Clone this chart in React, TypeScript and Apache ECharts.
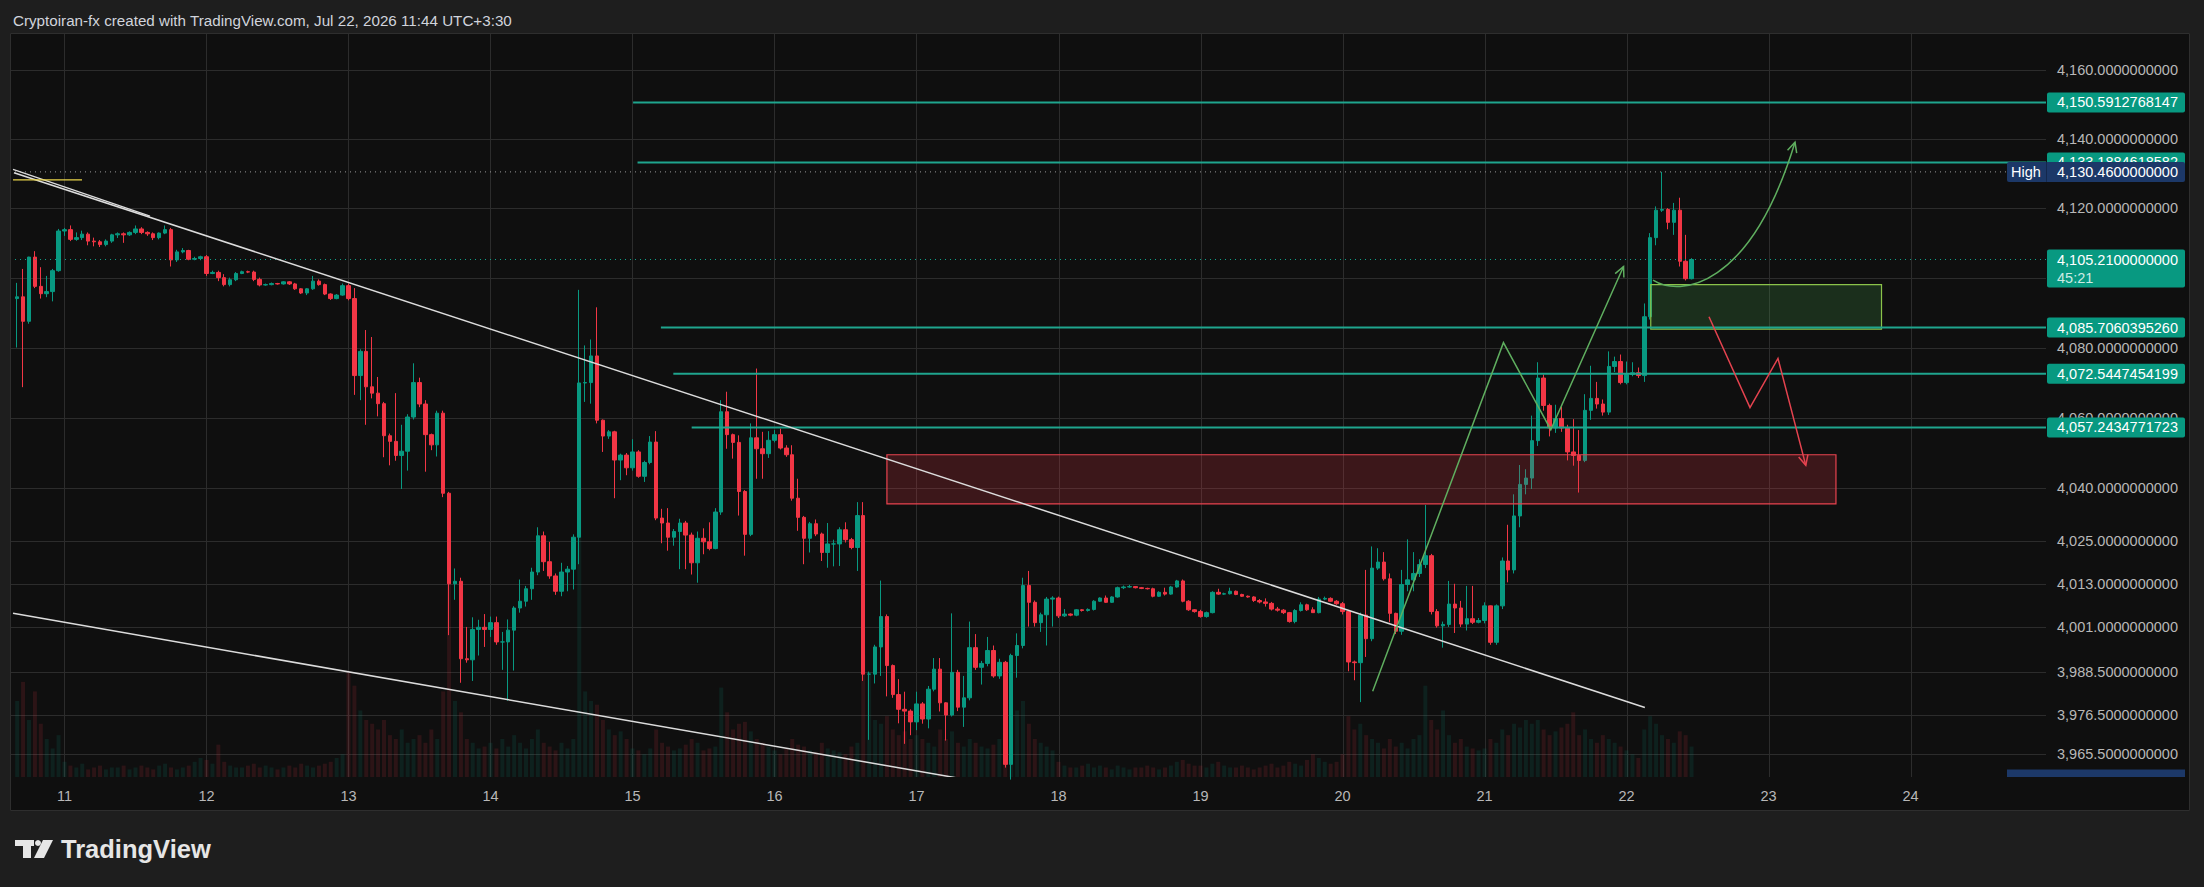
import React, { useEffect, useRef } from "react";
import * as echarts from "echarts";

// ---------- data ----------
// hourly candles, first candle opens Jul 10 16:00 (hours counted from Jul 10 00:00)
const FIRST_HOUR = 16;
const FIRST_OPEN = 4094;

const closes = [
  4094.5, 4087.5, 4105.9, 4097.5, 4095.4, 4096, 4102, 4113.4,
  4113.8, 4111, 4111.5, 4112.5, 4110.5, 4110.3, 4109.5, 4110.5, 4112.3, 4112.6, 4112.3, 4113, 4114, 4113, 4112.6, 4111.5, 4112.8, 4113.8, 4105.1, 4107.4, 4107.8, 4105.3, 4105.5, 4106,
  4101.2, 4101.5, 4100, 4098, 4099.4, 4101.2, 4101.7, 4101.6, 4099.5, 4097.9, 4098, 4098.3, 4098.2, 4098.8, 4098.2, 4096.8, 4095.6, 4096.8, 4099, 4098, 4095.3, 4094, 4095, 4097.7,
  4094, 4072, 4078.9, 4068.8, 4067, 4064, 4054.9, 4053.3, 4049.3, 4050.5, 4060.2, 4070, 4063.9, 4055.2, 4052.3, 4061.3, 4038.6, 4013.1, 4013.8, 3992.1, 3991.8, 4000.3, 4000.9, 4000.3,
  4002.2, 3996.8, 3996.8, 4000.1, 4006.3, 4008.2, 4011.7, 4016.4, 4026.6, 4019.3, 4015.3, 4011, 4016.4, 4017.2, 4026.2, 4069.9, 4070, 4077.6, 4059.3, 4054.8, 4056, 4048, 4049.4, 4045.8,
  4050.3, 4043.4, 4047.3, 4053.1, 4031.6, 4030.2, 4026.2, 4027.8, 4030.2, 4026.8, 4019, 4025.9, 4024.9, 4023, 4033.3, 4061.7, 4055.2, 4053, 4039.1, 4027, 4054.3, 4051.2, 4049.8, 4053.6,
  4055.2, 4051.4, 4049.5, 4037.2, 4031.8, 4025.9, 4030, 4027.1, 4021.9, 4024.3, 4024.3, 4028.3, 4025.5, 4023.3, 4032.3, 3987.8, 3987.8, 3995.4, 4003.9, 3990.2, 3982.1, 3978, 3977.5, 3974.5,
  3979.5, 3975.3, 3983.6, 3989.2, 3979.8, 3976.4, 3988.3, 3978.6, 3981.2, 3995.2, 3989.7, 3990.8, 3994.4, 3987.3, 3991.1, 3962.7, 3993, 3995.8, 4012.6, 4007.9, 4002.2, 4004.4, 4008.8, 4009.1,
  4004.1, 4004.6, 4004.3, 4005.8, 4005.6, 4005.9, 4008.2, 4009.1, 4007.9, 4009.4, 4012, 4012.2, 4012.3, 4012, 4011.8, 4011.7, 4009.6, 4010.7, 4010.2, 4012.2, 4013.9, 4008.2, 4005.8, 4005.3,
  4003.9, 4005, 4010.7, 4010.2, 4010.3, 4011, 4010.1, 4009.6, 4009.4, 4008.4, 4008, 4007.6, 4006, 4005.7, 4005, 4002.5, 4005.6, 4007.2, 4005.8, 4005, 4008.8, 4009, 4008.2, 4007.5,
  4005.3, 3991.2, 3991, 4004.3, 3997.7, 4017.5, 4019.2, 4014.5, 4004.8, 3999.8, 4012.9, 4014.2, 4016, 4018.5, 4021, 4005.3, 4001.3, 4001.7, 4007.4, 4006.3, 4001.8, 4003.3, 4002.3, 4002.8,
  4006.9, 3996.7, 4006.9, 4019.5, 4017, 4032.2, 4041.1, 4042.9, 4053.5, 4071.3, 4063.5, 4057.1, 4059.8, 4057.1, 4050.3, 4049.3, 4047.9, 4062.1, 4065.5, 4063.9, 4061.6, 4074.6, 4076, 4070,
  4072.3, 4072.8, 4072, 4088.8, 4111.5, 4119.4, 4119.6, 4115.9, 4119.4, 4104.7, 4099.7, 4105.21,
];

const highs = [
  4098.5, 4102.5, 4106, 4107.6, 4103, 4100.5, 4102.5, 4114,
  4114.3, 4115, 4113, 4113.5, 4113, 4111.5, 4110.8, 4111, 4112.6, 4113, 4113, 4113.3, 4115, 4114.5, 4113.3, 4113, 4113, 4115, 4114.3, 4108, 4108.5, 4108, 4106, 4106.3,
  4106.5, 4102, 4102, 4101, 4100, 4101.6, 4102, 4102, 4102, 4100, 4098.3, 4098.6, 4098.5, 4099, 4099, 4098.5, 4097, 4097, 4100.5, 4099.5, 4098.3, 4095.5, 4095.3, 4098.3,
  4098.3, 4097, 4079.5, 4085, 4083, 4071.6, 4064.5, 4055.5, 4067, 4058, 4061, 4075.5, 4071.4, 4065, 4055.5, 4062, 4062, 4039, 4017.4, 4014.8, 4001, 4003.7, 4003, 4004.6,
  4003.9, 4003.9, 3999.6, 4003.1, 4006.8, 4014.3, 4012.5, 4017.6, 4029, 4027.8, 4024.9, 4016, 4019, 4018.1, 4027, 4096.5, 4080.6, 4082.3, 4091.5, 4059.5, 4056.5, 4056.3, 4049.8, 4050,
  4053.9, 4050.8, 4047.8, 4054.8, 4056.2, 4034.2, 4034.4, 4028.5, 4031.4, 4030.8, 4027.5, 4027.8, 4028.7, 4030.4, 4034.4, 4065, 4067.4, 4055.5, 4055, 4039.5, 4058.4, 4074, 4056, 4056.2,
  4056.5, 4056.9, 4052.2, 4052.2, 4042.7, 4032.2, 4030.5, 4031.2, 4027.5, 4030.2, 4025.5, 4029, 4030.4, 4026, 4036.1, 4036.1, 3988.5, 3996, 4014, 4004.5, 3990.5, 3986.4, 3982.9, 3978,
  3982.9, 3980, 3984.5, 3992.3, 3992.3, 3980, 4004.8, 3989, 3987.3, 4002.5, 3999, 3991.5, 3998.2, 3995.8, 3992.1, 3991.5, 3993.5, 3999.2, 4014.8, 4016.7, 4008.4, 4005, 4009.4, 4009.6,
  4009.5, 4006, 4004.8, 4006, 4006, 4006.2, 4008.5, 4009.3, 4009.8, 4009.6, 4012.3, 4012.6, 4012.8, 4012.4, 4012.2, 4012, 4012, 4011, 4012, 4012.5, 4014.2, 4014.3, 4008.5, 4006,
  4005.8, 4005.3, 4011, 4011.7, 4010.6, 4012, 4011.2, 4010.3, 4009.8, 4009.6, 4008.8, 4009, 4008, 4006.6, 4006, 4005.2, 4006, 4007.9, 4007.5, 4006.5, 4009.4, 4009.5, 4009.3, 4008.5,
  4008, 4005.6, 3991.6, 4005, 4017, 4023.6, 4023.1, 4022, 4016, 4005, 4017, 4025.6, 4022, 4020, 4035.3, 4021.5, 4006, 4002.5, 4013.9, 4013.1, 4008.3, 4012.5, 4012.5, 4003.5,
  4007.9, 4007, 4007.3, 4020.5, 4029.7, 4038.3, 4046.6, 4045.4, 4060.6, 4075.8, 4072.3, 4064, 4063.7, 4063.2, 4058, 4059.6, 4056.5, 4066.7, 4074.8, 4070.2, 4065.2, 4078.9, 4077.4, 4078,
  4076, 4075.8, 4074.3, 4092.6, 4112.8, 4120.5, 4130.46, 4120, 4121.5, 4123, 4112.3, 4105.6,
];

const lows = [
  4080, 4068.7, 4086.8, 4097, 4094, 4094.4, 4093.2, 4101.7,
  4112, 4110.5, 4110.6, 4110.8, 4109.3, 4109, 4108.8, 4109, 4110, 4111.4, 4110, 4112, 4112.5, 4112.5, 4112, 4110.8, 4111, 4112.5, 4103.2, 4104.5, 4107, 4105, 4105, 4105,
  4100.5, 4101, 4099, 4097.5, 4097.5, 4099, 4101, 4101.3, 4099, 4097.5, 4097.7, 4097.8, 4098, 4098, 4097.9, 4096.5, 4095.3, 4095, 4096.5, 4097.7, 4095, 4093.6, 4093.8, 4094.8,
  4093.5, 4066.5, 4065, 4058, 4065.5, 4060.4, 4048.8, 4046.5, 4047.8, 4039.8, 4045, 4059.5, 4063, 4044.7, 4050.8, 4049, 4037.5, 3998.7, 4008.6, 3985.4, 3991, 3985.9, 3993, 3995.4,
  3998.2, 3996, 3989, 3980.4, 3988.8, 4005, 4006.7, 4008.6, 4015.5, 4016.7, 4014.5, 4010, 4009.6, 4011, 4011.5, 4018.6, 4064.5, 4064, 4058.4, 4050.3, 4054, 4037.2, 4042.3, 4043.7,
  4045, 4043, 4041.8, 4046.8, 4031, 4024.5, 4022.4, 4023.8, 4017.2, 4017.2, 4015.7, 4013.4, 4021.4, 4022.5, 4022.8, 4032.5, 4051.2, 4048.4, 4032.3, 4021, 4026.5, 4042.7, 4042.7, 4048.6,
  4053, 4051, 4048.9, 4036.5, 4028, 4018.6, 4021.9, 4026.5, 4019.5, 4017.6, 4018, 4018.1, 4024.7, 4022.8, 4016.7, 3985.9, 3969.5, 3985.2, 3987.3, 3981.6, 3981.2, 3974.1, 3968.4, 3970.8,
  3972.2, 3974, 3972.7, 3983, 3977.4, 3969.3, 3976, 3977.5, 3973.1, 3980.5, 3989, 3984.9, 3990, 3986.8, 3986.5, 3961.8, 3958.48, 3986.8, 3995, 4001.1, 4001.1, 3999.6, 3995.8, 4001.1,
  4003.5, 4003.8, 4004, 4004, 4005.3, 4005.3, 4005.6, 4008, 4007.7, 4007.7, 4009.2, 4011.6, 4012, 4011.8, 4011.6, 4011.5, 4009.3, 4009.4, 4009.8, 4010, 4012, 4007.9, 4005.5, 4005,
  4003.6, 4003.6, 4004.8, 4010, 4010, 4010.1, 4009.9, 4009.4, 4009.2, 4008, 4007.6, 4006.7, 4005.6, 4005.3, 4004.6, 4002.2, 4002, 4005.3, 4005.5, 4005, 4004.8, 4008.5, 4008, 4007.2,
  4004.5, 3988.6, 3986.1, 3980, 3992.6, 3997, 4017, 4014, 4002.3, 3999, 3998.8, 4011, 4011, 4015, 4017.5, 4004.5, 4000.8, 3995.2, 4001, 3999.3, 4001, 4000, 4001.8, 4002,
  4002, 3996, 3996, 4006, 4013.5, 4016, 4029, 4038.3, 4039.8, 4052, 4062, 4054.7, 4055.7, 4056, 4047.9, 4046.4, 4038.8, 4047.4, 4059.4, 4062.6, 4060.6, 4060.8, 4073, 4069.5,
  4069.5, 4071.8, 4071.3, 4070.2, 4088, 4109.3, 4118.9, 4113.9, 4112.3, 4103.2, 4099.2, 4099.5,
];

const volumes = [
  40, 50, 30, 45, 28, 20, 15, 22,
  8, 6, 5, 7, 4, 5, 6, 4, 5, 5, 6, 4, 5, 6, 5, 4, 6, 7, 5, 4, 5, 6, 8, 10,
  9, 7, 17, 8, 6, 5, 5, 6, 7, 5, 6, 5, 4, 5, 6, 5, 7, 6, 5, 6, 7, 8, 10, 12,
  55, 48, 35, 30, 28, 25, 30, 22, 20, 25, 18, 20, 22, 18, 25, 20, 45, 104, 40, 34, 20, 18, 15, 16,
  18, 15, 20, 16, 22, 18, 15, 20, 25, 18, 16, 14, 18, 15, 20, 187, 45, 40, 38, 30, 25, 22, 24, 20,
  15, 14, 12, 15, 25, 18, 16, 14, 15, 17, 20, 18, 14, 15, 16, 47, 34, 25, 28, 29, 24, 20, 18, 16,
  14, 12, 15, 20, 17, 16, 14, 13, 18, 15, 14, 13, 12, 16, 18, 64, 55, 30, 28, 32, 25, 22, 24, 20,
  22, 20, 18, 16, 25, 20, 24, 18, 16, 20, 18, 16, 15, 17, 20, 30, 42, 35, 40, 28, 20, 18, 16, 14,
  8, 6, 5, 5, 6, 7, 5, 6, 5, 4, 6, 5, 4, 5, 5, 6, 5, 4, 5, 6, 8, 9, 7, 6,
  6, 5, 7, 8, 6, 5, 5, 6, 5, 4, 5, 6, 7, 5, 6, 8, 7, 6, 9, 12, 10, 8, 7, 8,
  12, 32, 25, 28, 22, 20, 18, 15, 20, 16, 18, 15, 20, 22, 48, 30, 25, 35, 22, 18, 20, 16, 15, 14,
  15, 20, 18, 25, 22, 28, 26, 30, 28, 30, 25, 22, 24, 26, 28, 34, 22, 25, 20, 18, 22, 20, 18, 16,
  14, 12, 10, 25, 32, 28, 22, 20, 18, 24, 22, 16,
];

// axis ticks
const dayTicks = [11, 12, 13, 14, 15, 16, 17, 18, 19, 20, 21, 22, 23, 24];
const priceTicks = [4160, 4140, 4120, 4100, 4080, 4060, 4040, 4025, 4013, 4001, 3988.5, 3976.5, 3965.5];

// horizontal levels (price, start hour)
const levelPrices = [4150.5912768147, 4133.1884618582, 4085.706039526, 4072.5447454199, 4057.2434771723];
const levelStarts = [120.1, 120.85, 124.8, 126.9, 130.0];
const highPrice = 4130.46;
const lowPrice = 3958.48;
const lastPrice = 4105.21;
const countdown = "45:21";

// drawings in (hour, price)
const upperTrend = [[15.46, 4130.2], [291.1, 3978.5]];
const upperTrend2 = [[15.3, 4131.2], [38.45, 4117.7]];
const lowerTrend = [[15.3, 4004.8], [176.4, 3958.5]];
const yellowLine = [[15.3, 4128.15], [26.96, 4128.15]];
const supplyZone = [[163.0, 4049.5], [323.4, 4035.6]];
const demandZone = [[292.1, 4098.0], [331.1, 4085.25]];
const greenZigzag = [[245.1, 3983.0], [267.2, 4081.4], [275.2, 4056.6], [287.5, 4103.2]];
const greenCurve = [[292.48, 4099.26], [297.04, 4094.43], [308.87, 4096.7], [316.48, 4139.03]];
const redPath = [[301.94, 4088.8], [308.87, 4062.9], [313.6, 4076.9], [318.3, 4046.5]];

// ---------- layout / style ----------
const W = 2204;
const H = 887;
const X_MIN = 14.79;
const X_MAX = 358.9;
const Y_MIN = 3959.2;
const Y_MAX = 4170.8;
const FONT = '"Liberation Sans", Arial, sans-serif';
const UP = "#089981";
const DOWN = "#f23645";
const GRID_COLOR = "#2c2c2c";
const LEVEL_COLOR = "#1fa58e";
const GREEN_DRAW = "#5fae5f";
const RED_DRAW = "#e5434f";
const TEXT_COLOR = "#b8b8b8";

function fmtPrice(v: number): string {
  const s = Number(v).toFixed(10);
  const [i, d] = s.split(".");
  return i.replace(/\B(?=(\d{3})+(?!\d))/g, ",") + "." + d;
}

function arrowHead(tip: number[], from: number[], len = 11, ang = 0.45): number[][] {
  const a = Math.atan2(tip[1] - from[1], tip[0] - from[0]);
  return [
    [tip[0] - len * Math.cos(a - ang), tip[1] - len * Math.sin(a - ang)],
    [tip[0], tip[1]],
    [tip[0] - len * Math.cos(a + ang), tip[1] - len * Math.sin(a + ang)],
  ];
}

export default function App() {
  const ref = useRef<HTMLDivElement>(null);

  useEffect(() => {
    if (!ref.current) return;
    const chart = echarts.init(ref.current, undefined, { renderer: "svg", width: W, height: H });

    const n = Math.min(closes.length, highs.length, lows.length);
    const candles: number[][] = [];
    const vols: any[] = [];
    for (let i = 0; i < n; i++) {
      const o = i === 0 ? FIRST_OPEN : closes[i - 1];
      const x = FIRST_HOUR + i;
      candles.push([x, o, closes[i], lows[i], highs[i]]);
      vols.push({
        value: [x, volumes[i] ?? 0],
        itemStyle: { color: closes[i] >= o ? "rgba(8,153,129,0.13)" : "rgba(242,54,69,0.13)" },
      });
    }

    const gridSeries = {
      type: "custom",
      coordinateSystem: "cartesian2d",
      silent: true,
      clip: true,
      z: 1,
      data: [[X_MIN, 4000]],
      encode: { x: 0, y: 1 },
      renderItem: (params: any, api: any) => {
        const cs = params.coordSys;
        const ch: any[] = [];
        for (const p of priceTicks) {
          const y = Math.round(api.coord([X_MIN, p])[1]) + 0.5;
          ch.push({ type: "line", shape: { x1: cs.x, y1: y, x2: cs.x + cs.width, y2: y }, style: { stroke: GRID_COLOR, lineWidth: 1 } });
        }
        for (const d of dayTicks) {
          const x = Math.round(api.coord([(d - 10) * 24, 4000])[0]) + 0.5;
          ch.push({ type: "line", shape: { x1: x, y1: cs.y, x2: x, y2: cs.y + cs.height }, style: { stroke: GRID_COLOR, lineWidth: 1 } });
        }
        return { type: "group", children: ch };
      },
    };

    const drawSeries = {
      type: "custom",
      coordinateSystem: "cartesian2d",
      silent: true,
      clip: true,
      z: 5,
      data: [[X_MIN, 4000]],
      encode: { x: 0, y: 1 },
      renderItem: (params: any, api: any) => {
        const cs = params.coordSys;
        const c = (p: number[]) => api.coord(p);
        const left = cs.x;
        const right = cs.x + cs.width;
        const ch: any[] = [];
        const hline = (price: number, stroke: string, dash: number[]) => {
          const y = c([X_MIN, price])[1];
          ch.push({ type: "line", shape: { x1: left, y1: y, x2: right, y2: y }, style: { stroke, lineWidth: 1, lineDash: dash } });
        };
        hline(highPrice, "#9a9a9a", [1, 4]);
        hline(lastPrice, "#14a08a", [1, 4]);

        const zone = (z: number[][], fill: string, stroke: string) => {
          const a = c(z[0]);
          const b = c(z[1]);
          ch.push({ type: "rect", shape: { x: a[0], y: a[1], width: b[0] - a[0], height: b[1] - a[1] }, style: { fill, stroke, lineWidth: 1.2 } });
        };
        zone(supplyZone, "rgba(242,54,69,0.2)", "#e8434f");
        zone(demandZone, "rgba(76,175,80,0.2)", "#8bc34a");

        levelPrices.forEach((p, i) => {
          const a = c([levelStarts[i], p]);
          ch.push({ type: "line", shape: { x1: a[0], y1: a[1], x2: right, y2: a[1] }, style: { stroke: LEVEL_COLOR, lineWidth: 2 } });
        });

        const seg = (t: number[][], stroke: string, w: number) => {
          const a = c(t[0]);
          const b = c(t[1]);
          ch.push({ type: "line", shape: { x1: a[0], y1: a[1], x2: b[0], y2: b[1] }, style: { stroke, lineWidth: w } });
        };
        seg(upperTrend, "#dcdcdc", 1.5);
        seg(upperTrend2, "#dcdcdc", 1.2);
        seg(lowerTrend, "#dcdcdc", 1.5);
        seg(yellowLine, "#e8d34a", 1.2);

        const poly = (pts: number[][], stroke: string) => {
          const px = pts.map(c);
          ch.push({ type: "polyline", shape: { points: px }, style: { stroke, lineWidth: 1.5, fill: null } });
          ch.push({ type: "polyline", shape: { points: arrowHead(px[px.length - 1], px[px.length - 2]) }, style: { stroke, lineWidth: 1.5, fill: null } });
        };
        poly(greenZigzag, GREEN_DRAW);
        poly(redPath, RED_DRAW);

        const cv = greenCurve.map(c);
        ch.push({
          type: "bezierCurve",
          shape: { x1: cv[0][0], y1: cv[0][1], cpx1: cv[1][0], cpy1: cv[1][1], cpx2: cv[2][0], cpy2: cv[2][1], x2: cv[3][0], y2: cv[3][1] },
          style: { stroke: GREEN_DRAW, lineWidth: 1.5, fill: null },
        });
        ch.push({ type: "polyline", shape: { points: arrowHead(cv[3], cv[2]) }, style: { stroke: GREEN_DRAW, lineWidth: 1.5, fill: null } });

        return { type: "group", children: ch };
      },
    };

    const tagSeries = {
      type: "custom",
      coordinateSystem: "cartesian2d",
      silent: true,
      clip: false,
      z: 10,
      data: [[X_MIN, 4000]],
      encode: { x: 0, y: 1 },
      renderItem: (params: any, api: any) => {
        const cs = params.coordSys;
        const right = cs.x + cs.width;
        const bottom = cs.y + cs.height;
        const ch: any[] = [];
        const font = `14.5px ${FONT}`;
        const txt = (x: number, y: number, text: string, fill: string) => ({
          type: "text",
          x,
          y,
          style: { text, fill, font, textAlign: "left", textVerticalAlign: "middle", verticalAlign: "middle" },
        });
        const tag = (price: number, bg: string) => {
          const y = api.coord([X_MIN, price])[1];
          ch.push({ type: "rect", shape: { x: right + 1, y: y - 10, width: 138, height: 20, r: 2 }, style: { fill: bg } });
          ch.push(txt(right + 11, y, fmtPrice(price), "#ffffff"));
        };
        tag(levelPrices[0], UP);
        tag(levelPrices[1], UP);
        // High tag
        const yH = api.coord([X_MIN, highPrice])[1];
        ch.push({ type: "rect", shape: { x: right - 39, y: yH - 10, width: 178, height: 20, r: 2 }, style: { fill: "#1c3868" } });
        ch.push({ type: "line", shape: { x1: right + 0.5, y1: yH - 10, x2: right + 0.5, y2: yH + 10 }, style: { stroke: "#14284d", lineWidth: 1 } });
        ch.push(txt(right - 35, yH, "High", "#ffffff"));
        ch.push(txt(right + 11, yH, fmtPrice(highPrice), "#ffffff"));
        // current price with countdown
        const yL = api.coord([X_MIN, lastPrice])[1];
        ch.push({ type: "rect", shape: { x: right + 1, y: yL - 10, width: 138, height: 38, r: 2 }, style: { fill: UP } });
        ch.push(txt(right + 11, yL, fmtPrice(lastPrice), "#ffffff"));
        ch.push(txt(right + 11, yL + 18, countdown, "#cdebe5"));
        tag(levelPrices[2], UP);
        tag(levelPrices[3], UP);
        tag(levelPrices[4], UP);
        // Low tag (mostly hidden below the pane)
        const yLo = api.coord([X_MIN, lowPrice])[1];
        const top = yLo - 10;
        if (top < bottom) {
          ch.push({ type: "rect", shape: { x: right - 39, y: top, width: 178, height: bottom - top }, style: { fill: "#1c3868" } });
        }
        return { type: "group", children: ch };
      },
    };

    const option: any = {
      animation: false,
      backgroundColor: "#0f0f0f",
      grid: { left: 10, right: 158, top: 33, bottom: 110, containLabel: false },
      xAxis: {
        type: "value",
        min: X_MIN,
        max: X_MAX,
        axisLine: { show: false },
        axisTick: { show: false },
        splitLine: { show: false },
        axisLabel: {
          customValues: dayTicks.map((d) => (d - 10) * 24),
          formatter: (v: number) => String(Math.round(10 + v / 24)),
          color: TEXT_COLOR,
          fontSize: 14.5,
          fontFamily: FONT,
          margin: 11,
        },
      },
      yAxis: [
        {
          type: "log",
          logBase: 10,
          position: "right",
          min: Y_MIN,
          max: Y_MAX,
          axisLine: { show: false },
          axisTick: { show: false },
          splitLine: { show: false },
          minorSplitLine: { show: false },
          axisLabel: {
            customValues: priceTicks,
            formatter: (v: number) => fmtPrice(v),
            color: TEXT_COLOR,
            fontSize: 14.5,
            fontFamily: FONT,
            margin: 11,
          },
        },
        { type: "value", min: 0, max: 391, show: false },
      ],
      series: [
        gridSeries,
        {
          type: "bar",
          xAxisIndex: 0,
          yAxisIndex: 1,
          data: vols,
          barWidth: 4,
          silent: true,
          z: 2,
        },
        {
          type: "candlestick",
          xAxisIndex: 0,
          yAxisIndex: 0,
          data: candles,
          encode: { x: 0, y: [1, 2, 3, 4] },
          barWidth: 4,
          silent: true,
          z: 3,
          itemStyle: { color: UP, color0: DOWN, borderColor: UP, borderColor0: DOWN, borderWidth: 1 },
        },
        drawSeries,
        tagSeries,
      ],
      graphic: [
        { type: "rect", shape: { x: 0, y: 0, width: W, height: 33 }, style: { fill: "#1e1e1e" }, silent: true, z: 100 },
        { type: "rect", shape: { x: 0, y: 811, width: W, height: H - 811 }, style: { fill: "#1e1e1e" }, silent: true, z: 100 },
        { type: "rect", shape: { x: 0, y: 0, width: 10, height: H }, style: { fill: "#1e1e1e" }, silent: true, z: 100 },
        { type: "rect", shape: { x: 2190, y: 0, width: W - 2190, height: H }, style: { fill: "#1e1e1e" }, silent: true, z: 100 },
        { type: "rect", shape: { x: 10.5, y: 33.5, width: 2179, height: 777 }, style: { fill: null, stroke: "#2e2e2e", lineWidth: 1 }, silent: true, z: 101 },
        {
          type: "text",
          x: 13,
          y: 20,
          silent: true,
          z: 102,
          style: { text: "Cryptoiran-fx created with TradingView.com, Jul 22, 2026 11:44 UTC+3:30", fill: "#d1d4dc", font: `15.2px ${FONT}`, textVerticalAlign: "middle", verticalAlign: "middle" },
        },
        // TradingView logo
        { type: "rect", shape: { x: 15, y: 840, width: 19, height: 6 }, style: { fill: "#e6e6e6" }, silent: true, z: 102 },
        { type: "rect", shape: { x: 23, y: 840, width: 8, height: 18 }, style: { fill: "#e6e6e6" }, silent: true, z: 102 },
        { type: "circle", shape: { cx: 38, cy: 843, r: 3 }, style: { fill: "#e6e6e6" }, silent: true, z: 102 },
        { type: "polygon", shape: { points: [[43, 840], [53, 840], [44, 858], [34, 858]] }, style: { fill: "#e6e6e6" }, silent: true, z: 102 },
        {
          type: "text",
          x: 61,
          y: 849,
          silent: true,
          z: 102,
          style: { text: "TradingView", fill: "#e6e6e6", font: `bold 25.5px ${FONT}`, textVerticalAlign: "middle", verticalAlign: "middle" },
        },
      ],
    };

    chart.setOption(option);
    return () => chart.dispose();
  }, []);

  return <div ref={ref} style={{ position: "fixed", left: 0, top: 0, width: W, height: H }} />;
}
